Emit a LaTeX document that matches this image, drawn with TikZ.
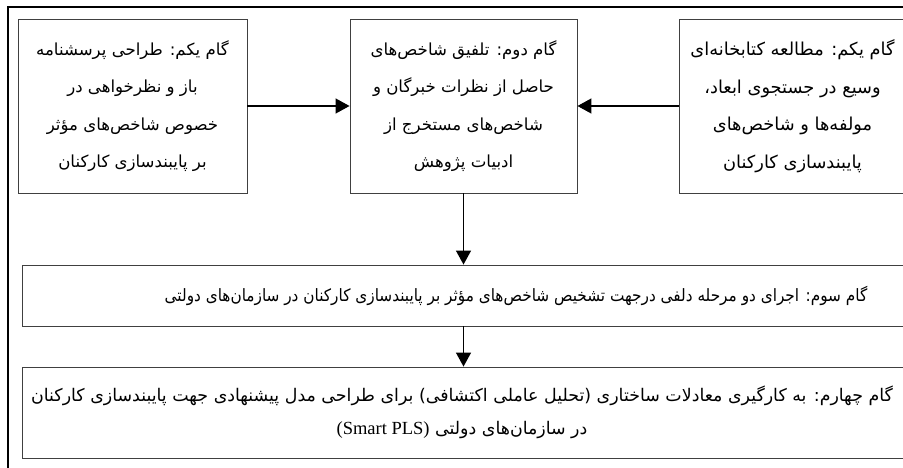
\documentclass[tikz,border=0pt]{standalone}
\usepackage{fontspec}
\usetikzlibrary{arrows.meta}
\TeXXeTstate=1
\newfontfamily\arabicfont[Script=Arabic]{DejaVu Sans}
\newfontfamily\arabicnarrow[Script=Arabic,FakeStretch=0.9]{DejaVu Sans}
\setmainfont{Liberation Serif}
\tikzset{
  stepbox/.style={draw=black!75, line width=0.9pt, inner sep=0pt, align=center,
    font=\arabicfont\fontsize{16.6}{37.5}\selectfont},
  widebox/.style={draw=black!75, line width=0.9pt, inner sep=0pt, align=center,
    font=\arabicnarrow\fontsize{17}{33}\selectfont},
  flow/.style={line width=1.4pt, -{Triangle[width=15pt,length=14pt]}}
}
\begin{document}
\begin{tikzpicture}[x=1pt,y=-1pt]
\useasboundingbox (0,0) rectangle (903,468);
\draw[line width=1.3pt] (903,7) -- (8,7) -- (8,470);
\node[stepbox, minimum width=229pt, minimum height=174pt] (s1) at (132.5,106)
  {\beginR گام یکم: طراحی پرسشنامه\endR\\
   \beginR باز  و نظرخواهی در\endR\\
   \beginR خصوص شاخص‌های مؤثر\endR\\
   \beginR بر پایبندسازی کارکنان\endR};
\node[stepbox, minimum width=227pt, minimum height=174pt] (s2) at (463.5,106)
  {\beginR گام دوم: تلفیق شاخص‌های\endR\\
   \beginR حاصل از نظرات خبرگان و\endR\\
   \beginR شاخص‌های مستخرج از\endR\\
   \beginR ادبیات پژوهش\endR};
\node[stepbox, minimum width=227pt, minimum height=174pt, font=\arabicfont\fontsize{17.8}{37.5}\selectfont] (s0) at (792.5,106)
  {\beginR گام یکم: مطالعه کتابخانه‌ای\endR\\
   \beginR وسیع در جستجوی ابعاد،\endR\\
   \beginR مولفه‌ها و شاخص‌های\endR\\
   \beginR پایبندسازی کارکنان\endR};
\node[widebox, minimum width=988pt, minimum height=61pt] (s3) at (516,295.5)
  {\beginR گام سوم: اجرای دو مرحله دلفی درجهت تشخیص شاخص‌های مؤثر بر پایبندسازی کارکنان در سازمان‌های دولتی\endR};
\node[widebox, minimum width=888pt, minimum height=91pt, font=\arabicfont\fontsize{17.4}{33}\selectfont] (s4) at (466,412.5)
  {\beginR گام چهارم: به کارگیری معادلات ساختاری (تحلیل عاملی اکتشافی) برای طراحی مدل پیشنهادی جهت پایبندسازی کارکنان\endR\hspace*{8pt}\\
   \beginR در سازمان‌های دولتی \beginL{\rmfamily\fontsize{18.5}{33}\selectfont(Smart PLS)}\endL\endR\hspace*{8pt}};
\draw[flow] (s1.east) -- (s2.west);
\draw[flow] (s0.west) -- (s2.east);
\draw[flow] (s2.south) -- (s2.south |- s3.north);
\draw[flow] (s3.south -| s2.south) -- (s2.south |- s4.north);
\end{tikzpicture}
\end{document}
